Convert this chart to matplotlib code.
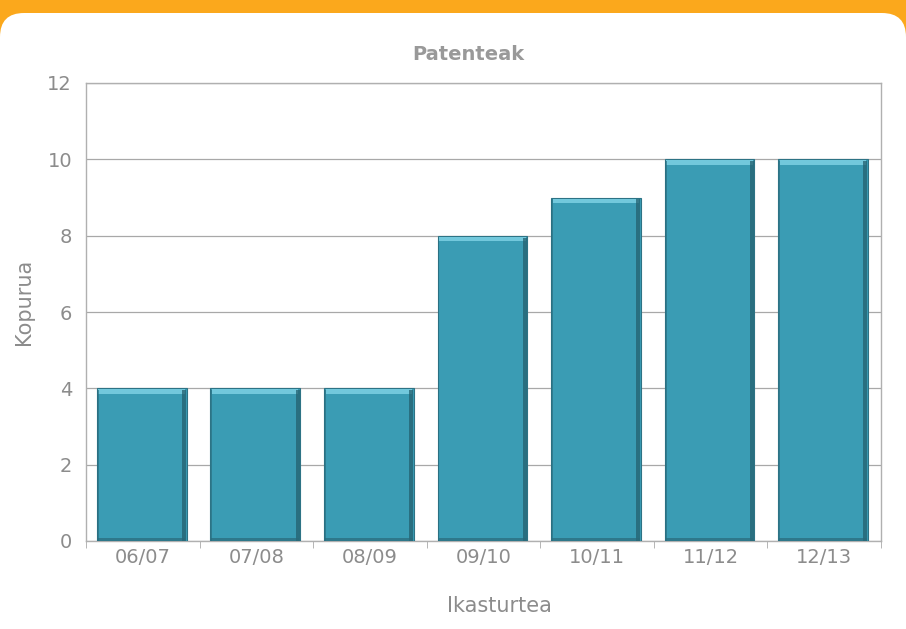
import numpy as np
import matplotlib.pyplot as plt
from matplotlib.patches import FancyBboxPatch

# data
seasons = ['06/07', '07/08', '08/09', '09/10', '10/11', '11/12', '12/13']
patents = [4, 4, 4, 8, 9, 10, 10]

GRAY = '#8c8c8c'
BAR = '#3a9cb4'
LIGHT = '#72c8dc'
DARK = '#24606f'

fig = plt.figure(figsize=(9.06, 6.29), dpi=100, facecolor='#fba81c')

# white rounded panel
bg = fig.add_axes([0, 0, 1, 1])
bg.set_xlim(0, 906)
bg.set_ylim(0, 629)
bg.axis('off')
bg.add_patch(FancyBboxPatch((0, -60), 906, 629 - 13 + 60,
                            boxstyle='round,pad=0,rounding_size=24',
                            facecolor='white', edgecolor='none'))

ax = fig.add_axes([86 / 906, 88 / 629, 795 / 906, 458 / 629])
x = np.arange(len(seasons))
w = 0.79
vals = np.array(patents, dtype=float)

# main bars + bevel pieces
ax.bar(x - 0.01, vals, width=w, color=BAR, edgecolor='#2d7385', linewidth=0.8, zorder=3)
ax.bar(x - 0.01, np.full_like(vals, 0.12), bottom=vals - 0.15, width=w - 0.03,
       color=LIGHT, edgecolor='none', zorder=4)
ax.bar(x - 0.01 + w / 2 - 0.022, vals - 0.05, width=0.035, color=DARK,
       edgecolor='none', zorder=4, alpha=0.75)
ax.bar(x - 0.01 - w / 2 + 0.01, vals - 0.05, width=0.015, color='#2a7082',
       edgecolor='none', zorder=4, alpha=0.7)
ax.bar(x - 0.01, np.full_like(vals, 0.07), bottom=0.0, width=w - 0.02,
       color='#2a6a7a', edgecolor='none', zorder=4, alpha=0.7)

ax.set_xlim(-0.5, len(seasons) - 0.5)
ax.set_ylim(0, 12)
ax.set_yticks(np.arange(0, 13, 2))
ax.set_xticks(x)
ax.set_xticklabels(seasons)
ax.set_xticks(np.arange(-0.5, len(seasons), 1.0), minor=True)
ax.tick_params(axis='x', which='major', length=0, pad=5, labelsize=14, labelcolor=GRAY)
ax.tick_params(axis='x', which='minor', length=5, color='#aaaaaa', direction='out')
ax.tick_params(axis='y', length=0, pad=10, labelsize=14, labelcolor=GRAY)
ax.yaxis.grid(True, color='#a8a8a8', linewidth=0.9, zorder=0)
ax.set_axisbelow(True)
for s in ax.spines.values():
    s.set_color('#b0b0b0')
    s.set_linewidth(1.0)

fig.text(468 / 906, 1 - 54 / 629, 'Patenteak', ha='center', va='center',
         fontsize=14, fontweight='bold', color='#999999')
fig.text(499 / 906, 1 - 606 / 629, 'Ikasturtea', ha='center', va='center',
         fontsize=15, color=GRAY)
fig.text(24 / 906, 1 - 302 / 629, 'Kopurua', ha='center', va='center',
         rotation=90, fontsize=15, color=GRAY)

fig.savefig('out.png', dpi=100, facecolor=fig.get_facecolor())
